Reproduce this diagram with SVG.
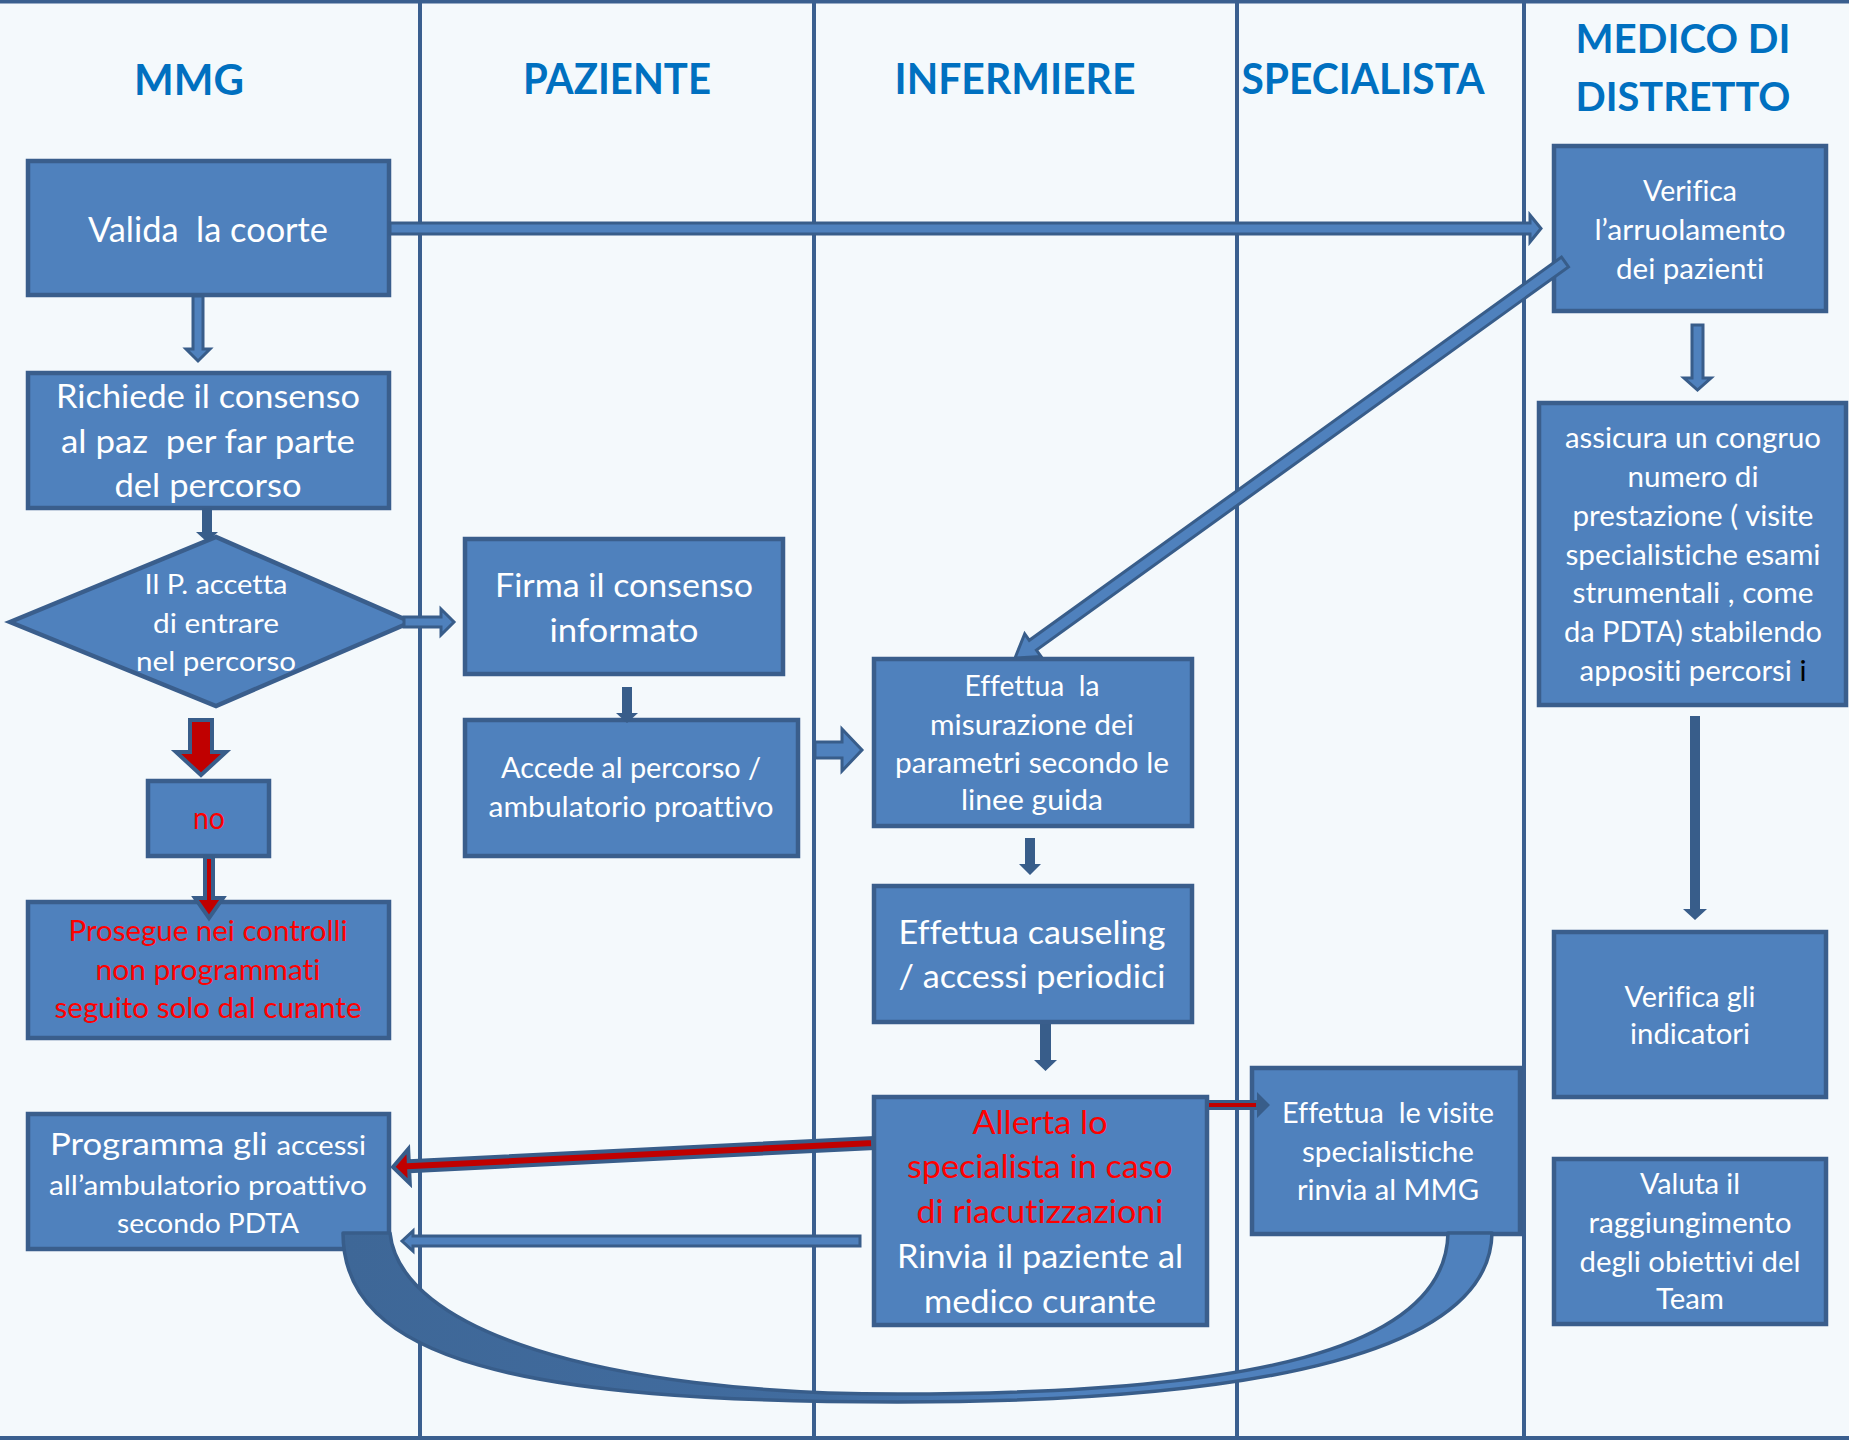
<svg xmlns="http://www.w3.org/2000/svg" width="1849" height="1440" viewBox="0 0 1849 1440">
<defs>
<style>
.bg{fill:#F4F9FC}
.lane{stroke:#3A5F8F;stroke-width:4;fill:none}
.box{fill:#4F81BD;stroke:#3A5E8C;stroke-width:4.5}
.t{font-family:Lato,"Open Sans","Liberation Sans",sans-serif;fill:#FFFFFF;text-anchor:middle;font-variant-ligatures:none}
.rt{fill:#FF0000}
.h{font-family:Lato,"Open Sans","Liberation Sans",sans-serif;font-weight:bold;fill:#0070C0;text-anchor:middle;font-variant-ligatures:none}
.arr{fill:#4F81BD;stroke:#385D8A;stroke-width:3;stroke-linejoin:miter}
.darr{fill:#385D8A}
.red{fill:#C00000;stroke:#385D8A;stroke-width:4}
</style>
<linearGradient id="ug" x1="343" y1="0" x2="1492" y2="0" gradientUnits="userSpaceOnUse">
<stop offset="0" stop-color="#3E6797"/>
<stop offset="0.42" stop-color="#416C9F"/>
<stop offset="0.6" stop-color="#4F81BD"/>
<stop offset="1" stop-color="#4F81BD"/>
</linearGradient>
</defs>

<g id="background">
<rect class="bg" x="0" y="0" width="1849" height="1440"/>
<line class="lane" x1="0" y1="1.5" x2="1849" y2="1.5"/>
<line class="lane" x1="0" y1="1438" x2="1849" y2="1438"/>
<line class="lane" x1="420" y1="0" x2="420" y2="1440"/>
<line class="lane" x1="814" y1="0" x2="814" y2="1440"/>
<line class="lane" x1="1237" y1="0" x2="1237" y2="1440"/>
<line class="lane" x1="1524" y1="0" x2="1524" y2="1440"/>
</g>

<g id="headers">
<text class="h" x="189" y="95" font-size="42" textLength="110" lengthAdjust="spacingAndGlyphs">MMG</text>
<text class="h" x="617" y="94" font-size="42" textLength="188" lengthAdjust="spacingAndGlyphs">PAZIENTE</text>
<text class="h" x="1015" y="94" font-size="42" textLength="241" lengthAdjust="spacingAndGlyphs">INFERMIERE</text>
<text class="h" x="1363" y="94" font-size="42" textLength="243" lengthAdjust="spacingAndGlyphs">SPECIALISTA</text>
<text class="h" x="1683" y="53" font-size="40" textLength="215" lengthAdjust="spacingAndGlyphs">MEDICO DI</text>
<text class="h" x="1683" y="111" font-size="40" textLength="215" lengthAdjust="spacingAndGlyphs">DISTRETTO</text>
</g>

<g id="node-valida">
<rect class="box" x="28" y="161" width="361" height="134"/>
<text class="t" x="208" y="242" font-size="34" textLength="240" lengthAdjust="spacingAndGlyphs" xml:space="preserve">Valida  la coorte</text>
</g>

<g id="node-richiede">
<rect class="box" x="28" y="373" width="361" height="135"/>
<text class="t" x="208" y="408" font-size="33" textLength="304" lengthAdjust="spacingAndGlyphs">Richiede il consenso</text>
<text class="t" x="208" y="453" font-size="33" textLength="294" lengthAdjust="spacingAndGlyphs" xml:space="preserve">al paz  per far parte</text>
<text class="t" x="208" y="497" font-size="33" textLength="187" lengthAdjust="spacingAndGlyphs">del percorso</text>
</g>

<g id="node-decisione">
<polygon class="box" points="10,622 216,537 411,622 216,706"/>
<text class="t" x="216" y="594" font-size="27" textLength="143" lengthAdjust="spacingAndGlyphs">Il P. accetta</text>
<text class="t" x="216" y="633" font-size="27" textLength="126" lengthAdjust="spacingAndGlyphs">di entrare</text>
<text class="t" x="216" y="671" font-size="27" textLength="160" lengthAdjust="spacingAndGlyphs">nel percorso</text>
</g>

<g id="node-no">
<rect class="box" x="148" y="781" width="121" height="75"/>
<text class="t rt" x="209" y="829" font-size="30" textLength="32" lengthAdjust="spacingAndGlyphs">no</text>
</g>

<g id="node-prosegue">
<rect class="box" x="28" y="902" width="361" height="136"/>
<text class="t rt" x="208" y="941" font-size="28" textLength="279" lengthAdjust="spacingAndGlyphs">Prosegue nei controlli</text>
<text class="t rt" x="208" y="980" font-size="28" textLength="225" lengthAdjust="spacingAndGlyphs">non programmati</text>
<text class="t rt" x="208" y="1018" font-size="28" textLength="307" lengthAdjust="spacingAndGlyphs">seguito solo dal curante</text>
</g>

<g id="node-programma">
<rect class="box" x="28" y="1114" width="361" height="135"/>
<text class="t" x="208" y="1155" font-size="31" textLength="316" lengthAdjust="spacingAndGlyphs">Programma gli <tspan font-size="26">accessi</tspan></text>
<text class="t" x="208" y="1195" font-size="27" textLength="318" lengthAdjust="spacingAndGlyphs">all’ambulatorio proattivo</text>
<text class="t" x="208" y="1233" font-size="27" textLength="182" lengthAdjust="spacingAndGlyphs">secondo PDTA</text>
</g>

<g id="node-firma">
<rect class="box" x="465" y="539" width="318" height="135"/>
<text class="t" x="624" y="597" font-size="33" textLength="258" lengthAdjust="spacingAndGlyphs">Firma il consenso</text>
<text class="t" x="624" y="642" font-size="33" textLength="149" lengthAdjust="spacingAndGlyphs">informato</text>
</g>

<g id="node-accede">
<rect class="box" x="465" y="720" width="333" height="136"/>
<text class="t" x="631" y="778" font-size="28" textLength="260" lengthAdjust="spacingAndGlyphs">Accede al percorso /</text>
<text class="t" x="631" y="817" font-size="28" textLength="285" lengthAdjust="spacingAndGlyphs">ambulatorio proattivo</text>
</g>

<g id="node-misurazione">
<rect class="box" x="874" y="659" width="318" height="167"/>
<text class="t" x="1032" y="696" font-size="28" textLength="135" lengthAdjust="spacingAndGlyphs" xml:space="preserve">Effettua  la</text>
<text class="t" x="1032" y="735" font-size="28" textLength="204" lengthAdjust="spacingAndGlyphs">misurazione dei</text>
<text class="t" x="1032" y="773" font-size="28" textLength="274" lengthAdjust="spacingAndGlyphs">parametri secondo le</text>
<text class="t" x="1032" y="810" font-size="28" textLength="142" lengthAdjust="spacingAndGlyphs">linee guida</text>
</g>

<g id="node-causeling">
<rect class="box" x="874" y="886" width="318" height="136"/>
<text class="t" x="1032" y="944" font-size="32" textLength="267" lengthAdjust="spacingAndGlyphs">Effettua causeling</text>
<text class="t" x="1032" y="988" font-size="32" textLength="267" lengthAdjust="spacingAndGlyphs">/ accessi periodici</text>
</g>

<g id="node-allerta">
<rect class="box" x="874" y="1097" width="333" height="228"/>
<text class="t rt" x="1040" y="1134" font-size="32" textLength="135" lengthAdjust="spacingAndGlyphs">Allerta lo</text>
<text class="t rt" x="1040" y="1178" font-size="32" textLength="266" lengthAdjust="spacingAndGlyphs">specialista in caso</text>
<text class="t rt" x="1040" y="1223" font-size="32" textLength="247" lengthAdjust="spacingAndGlyphs">di riacutizzazioni</text>
<text class="t" x="1040" y="1268" font-size="32" textLength="286" lengthAdjust="spacingAndGlyphs">Rinvia il paziente al</text>
<text class="t" x="1040" y="1313" font-size="32" textLength="232" lengthAdjust="spacingAndGlyphs">medico curante</text>
</g>

<g id="node-visite">
<rect class="box" x="1252" y="1068" width="268" height="166"/>
<text class="t" x="1388" y="1123" font-size="28" textLength="212" lengthAdjust="spacingAndGlyphs" xml:space="preserve">Effettua  le visite</text>
<text class="t" x="1388" y="1162" font-size="28" textLength="172" lengthAdjust="spacingAndGlyphs">specialistiche</text>
<text class="t" x="1388" y="1200" font-size="28" textLength="182" lengthAdjust="spacingAndGlyphs">rinvia al MMG</text>
</g>

<g id="node-verifica-arruolamento">
<rect class="box" x="1554" y="146" width="272" height="165"/>
<text class="t" x="1690" y="201" font-size="29" textLength="94" lengthAdjust="spacingAndGlyphs">Verifica</text>
<text class="t" x="1690" y="240" font-size="29" textLength="191" lengthAdjust="spacingAndGlyphs">l’arruolamento</text>
<text class="t" x="1690" y="279" font-size="29" textLength="148" lengthAdjust="spacingAndGlyphs">dei pazienti</text>
</g>

<g id="node-assicura">
<rect class="box" x="1539" y="403" width="307" height="302"/>
<text class="t" x="1693" y="448" font-size="29" textLength="256" lengthAdjust="spacingAndGlyphs">assicura un congruo</text>
<text class="t" x="1693" y="487" font-size="29" textLength="131" lengthAdjust="spacingAndGlyphs">numero di</text>
<text class="t" x="1693" y="526" font-size="29" textLength="241" lengthAdjust="spacingAndGlyphs">prestazione ( visite</text>
<text class="t" x="1693" y="565" font-size="29" textLength="255" lengthAdjust="spacingAndGlyphs">specialistiche esami</text>
<text class="t" x="1693" y="603" font-size="29" textLength="241" lengthAdjust="spacingAndGlyphs">strumentali , come</text>
<text class="t" x="1693" y="642" font-size="29" textLength="258" lengthAdjust="spacingAndGlyphs">da PDTA) stabilendo</text>
<text class="t" x="1693" y="681" font-size="29" textLength="227" lengthAdjust="spacingAndGlyphs">appositi percorsi <tspan fill="#000000">i</tspan></text>
</g>

<g id="node-verifica-indicatori">
<rect class="box" x="1554" y="932" width="272" height="165"/>
<text class="t" x="1690" y="1007" font-size="29" textLength="131" lengthAdjust="spacingAndGlyphs">Verifica gli</text>
<text class="t" x="1690" y="1044" font-size="29" textLength="120" lengthAdjust="spacingAndGlyphs">indicatori</text>
</g>

<g id="node-valuta">
<rect class="box" x="1554" y="1159" width="272" height="165"/>
<text class="t" x="1690" y="1194" font-size="29" textLength="100" lengthAdjust="spacingAndGlyphs">Valuta il</text>
<text class="t" x="1690" y="1233" font-size="29" textLength="203" lengthAdjust="spacingAndGlyphs">raggiungimento</text>
<text class="t" x="1690" y="1272" font-size="29" textLength="221" lengthAdjust="spacingAndGlyphs">degli obiettivi del</text>
<text class="t" x="1690" y="1309" font-size="29" textLength="68" lengthAdjust="spacingAndGlyphs">Team</text>
</g>

<g id="connectors">
<polygon class="arr" points="1541,228.5 1530,215 1530,223 390,223 390,234 1530,234 1530,242"/>
<polygon class="arr" stroke-width="1.5" points="193,296 203,296 203,349 210,349 198,361 186,349 193,349"/>
<polygon class="darr" points="202,508 212,508 212,532 218,532 207,542 196,532 202,532"/>
<polygon class="arr" points="404,617 441,617 441,609 454,622 441,635 441,627 404,627"/>
<polygon class="red" stroke-width="5" points="190,720 212,720 212,752 226,752 201,775 176,752 190,752"/>
<polygon class="red" points="205,857 213,857 213,898 223,898 209,918 195,898 205,898"/>
<polygon class="darr" points="622,687 632,687 632,713 638,713 627,723 616,713 622,713"/>
<polygon class="arr" points="815,742 842,742 842,729 862,750 842,771 842,758 815,758"/>
<polygon class="arr" points="1015,658 1041,656.5 1036.4,650 1568.5,266.9 1561.5,257.1 1029.3,640.3 1024.7,633.8"/>
<polygon class="darr" points="1025,838 1035,838 1035,864 1041,864 1030,875 1019,864 1025,864"/>
<polygon class="darr" points="1040,1024 1051,1024 1051,1060 1057,1060 1045.5,1071 1034,1060 1040,1060"/>
<polygon class="red" stroke-width="3" points="393,1167 409.8,1183.2 409.25,1171.2 873.25,1148 872.75,1138 408.75,1161.2 408.2,1149.2"/>
<polygon class="arr" points="402,1241 413,1231 413,1236 860,1236 860,1246 413,1246 413,1251"/>
<polygon class="darr" points="1270,1105 1257,1092 1257,1100 1209,1100 1209,1110 1257,1110 1257,1118"/>
<line x1="1209" y1="1105" x2="1256" y2="1105" stroke="#C00000" stroke-width="4"/>
<polygon class="arr" points="1692,325 1703,325 1703,378 1711,378 1697.5,390 1684,378 1692,378"/>
<polygon class="darr" points="1690,716 1700,716 1700,909 1707,909 1695,920 1683,909 1690,909"/>
<path d="M343,1233 C343,1360 520,1402 898,1402 C1270,1402 1490,1350 1492,1233 L1448,1233 C1446,1350 1250,1394 898,1394 C600,1394 400,1330 390,1233 Z" fill="url(#ug)" stroke="#385D8A" stroke-width="3.5" stroke-linejoin="round"/>
</g>
</svg>
